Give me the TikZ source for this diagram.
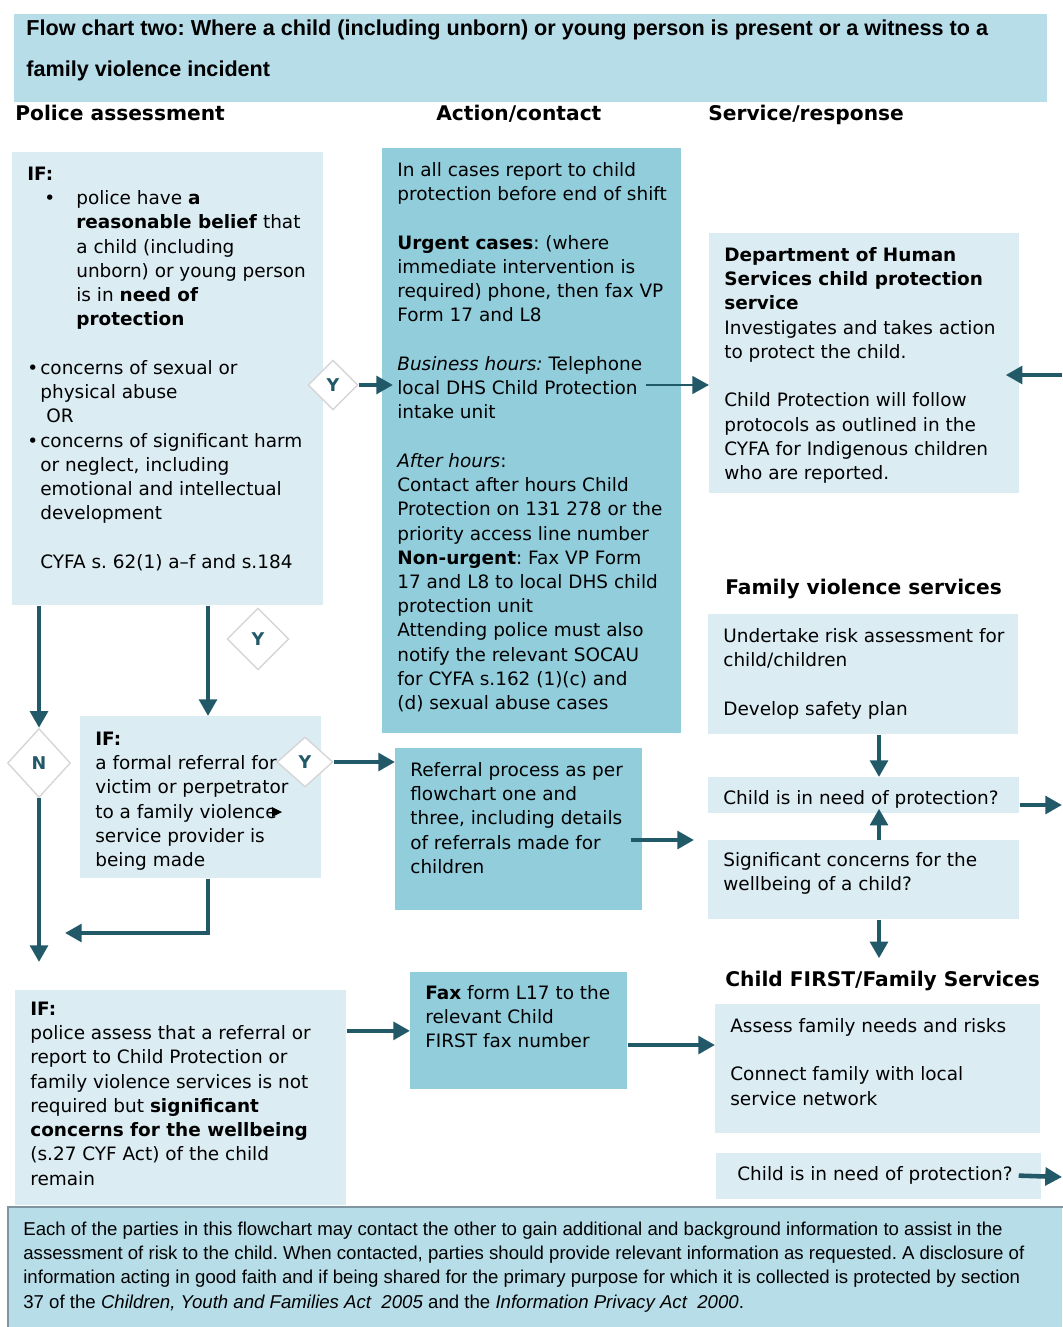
\documentclass[tikz,border=0pt]{standalone}
\usepackage{fontspec}
\setmainfont{DejaVu Sans}
\newfontfamily\titrefont{Liberation Sans}
\usetikzlibrary{arrows.meta, shapes.geometric}
\frenchspacing

\definecolor{bleutitre}{RGB}{183,221,232}
\definecolor{bleupale}{RGB}{219,236,243}
\definecolor{bleumoyen}{RGB}{146,205,220}
\definecolor{bleufonce}{RGB}{33,89,104}
\definecolor{grislosange}{RGB}{214,214,214}
\definecolor{grisbord}{RGB}{127,150,160}

\newdimen\pxl \pxl=0.02cm
\newcommand{\cell}[4][11]{\parbox[t][#3\pxl][t]{\dimexpr#2\pxl-30\pxl\relax}{\vspace*{#1\pxl}\begin{tabular}[t]{@{}l@{}}#4\end{tabular}}}

\begin{document}
\begin{tikzpicture}[x=0.02cm, y=-0.02cm,
  boite/.style={anchor=north west, fill=bleupale, inner xsep=0.3cm, inner ysep=0pt, font=\fontsize{10.5}{13.8}\selectfont},
  boitefoncee/.style={boite, fill=bleumoyen},
  entete/.style={anchor=base west, inner sep=0pt, font=\fontsize{11.5}{14}\selectfont\bfseries},
  losange/.style={diamond, draw=grislosange, fill=white, line width=0.8pt, inner sep=0pt, text=bleufonce, font=\fontsize{10}{12}\selectfont\bfseries},
  fleche/.style={draw=bleufonce, line width=2.6pt, -{Triangle[length=9.5pt,width=10pt]}},
]
\useasboundingbox (0,0) rectangle (1062,1327);
%titre et colonnes
\node[boite, fill=bleutitre, inner xsep=0.24cm, font=\titrefont\fontsize{12.3}{23.2}\selectfont\bfseries] (titre) at (14,14)
  {\cell[-7]{1039}{88}{Flow chart two: Where a child (including unborn) or young person is present or a witness to a\\family violence incident}};
\node[entete] (hPol) at (15,121) {Police assessment};
\node[entete] (hAct) at (436,121) {Action/contact};
\node[entete] (hServ) at (708,121) {Service/response};
%colonne police
\node[boite] (polA) at (12,152) {\cell{311}{453}{\textbf{IF:}\\
  \hspace*{17\pxl}\makebox[32\pxl][l]{•}police have \textbf{a}\\
  \hspace*{49\pxl}\textbf{reasonable belief} that\\
  \hspace*{49\pxl}a child (including\\
  \hspace*{49\pxl}unborn) or young person\\
  \hspace*{49\pxl}is in \textbf{need of}\\
  \hspace*{49\pxl}\textbf{protection}\\ \\
  \makebox[13\pxl][l]{•}concerns of sexual or\\
  \hspace*{13\pxl}physical abuse\\
  \hspace*{19\pxl}OR\\
  \makebox[13\pxl][l]{•}concerns of significant harm\\
  \hspace*{13\pxl}or neglect, including\\
  \hspace*{13\pxl}emotional and intellectual\\
  \hspace*{13\pxl}development\\ \\
  \hspace*{13\pxl}CYFA s. 62(1) a–f and s.184}};
\node[boite] (refI) at (80,716) {\cell[12]{241}{162}{\textbf{IF:}\\
  a formal referral for\\ victim or perpetrator\\ to a family violence\\
  service provider is\\ being made}};
\node[boite] (polK) at (15,990) {\cell[8]{331}{215}{\textbf{IF:}\\
  police assess that a referral or\\ report to Child Protection or\\
  family violence services is not\\ required but \textbf{significant}\\
  \textbf{concerns for the wellbeing}\\ (s.27 CYF Act) of the child\\ remain}};
%colonne action
\node[boitefoncee] (actB) at (382,148) {\cell{299}{585}{In all cases report to child\\
  protection before end of shift\\ \\
  \textbf{Urgent cases}: (where\\ immediate intervention is\\
  required) phone, then fax VP\\ Form 17 and L8\\ \\
  \textit{Business hours:} Telephone\\ local DHS Child Protection\\ intake unit\\ \\
  \textit{After hours}:\\ Contact after hours Child\\ Protection on 131 278 or the\\
  priority access line number\\ \textbf{Non-urgent}: Fax VP Form\\
  17 and L8 to local DHS child\\ protection unit\\ Attending police must also\\
  notify the relevant SOCAU\\ for CYFA s.162 (1)(c) and\\ (d) sexual abuse cases}};
\node[boitefoncee] (procJ) at (395,748) {\cell{247}{162}{Referral process as per\\
  flowchart one and\\ three, including details\\ of referrals made for\\ children}};
\node[boitefoncee] (faxL) at (410,972) {\cell[10]{217}{117}{\textbf{Fax} form L17 to the\\
  relevant Child\\ FIRST fax number}};
%colonne service
\node[boite] (dhsC) at (709,233) {\cell{310}{260}{\textbf{Department of Human}\\
  \textbf{Services child protection}\\ \textbf{service}\\
  Investigates and takes action\\ to protect the child.\\ \\
  Child Protection will follow\\ protocols as outlined in the\\
  CYFA for Indigenous children\\ who are reported.}};
\node[entete] (fvHead) at (725,594) {Family violence services};
\node[boite] (fvD) at (708,614) {\cell{310}{120}{Undertake risk assessment for\\
  child/children\\ \\ Develop safety plan}};
\node[boite] (needE) at (708,777) {\cell[10]{311}{36}{Child is in need of protection?}};
\node[boite] (sigF) at (708,840) {\cell[9]{311}{79}{Significant concerns for the\\
  wellbeing of a child?}};
\node[entete] (cfHead) at (725,986) {Child FIRST/Family Services};
\node[boite] (cfG) at (715,1004) {\cell{325}{129}{Assess family needs and risks\\ \\
  Connect family with local\\ service network}};
\node[boite] (needH) at (716,1153) {\cell[10]{325}{46}{\hspace*{6\pxl}Child is in need of protection?}};
%pied de page
\node[boite, fill=bleutitre, font=\titrefont\fontsize{10.6}{13.8}\selectfont] (pied) at (8,1207)
  {\cell{1054}{120}{Each of the parties in this flowchart may contact the other to gain additional and background information to assist in the\\
  assessment of risk to the child. When contacted, parties should provide relevant information as requested. A disclosure of\\
  information acting in good faith and if being shared for the primary purpose for which it is collected is protected by section\\
  37 of the \textit{Children, Youth and Families Act\ \ 2005} and the \textit{Information Privacy Act\ \ 2000}.}};
\draw[grisbord, line width=1pt] (pied.south west) -- (pied.north west) -- (pied.north east);
%les losanges
\node[losange, minimum width=1cm, minimum height=1cm] (ouiA) at (333,385) {Y};
\node[losange, minimum width=1.24cm, minimum height=1.24cm] (ouiB) at (258,639) {Y};
\node[losange, minimum width=1.26cm, minimum height=1.38cm] (nonC) at (39,763) {N};
\node[losange, minimum width=1.12cm, minimum height=1cm] (ouiD) at (305,762) {Y};
%points de repere
\coordinate (coude) at (208,933);
\coordinate (retour) at (65,933);
\coordinate (basN) at (39,962);
\coordinate (axe) at (879,0);
\coordinate (bordC) at (1062,375);
\coordinate (bordE) at (1062,805);
\coordinate (bordH) at (1062,1177);
\coordinate (niveauJ) at (660,840);
\coordinate (niveauL) at (660,1045);
%les fleches
\draw[fleche, shorten >=-0.22cm] (ouiA.east) -- (actB.west |- ouiA.east);
\draw[fleche, line width=1.6pt, shorten <=-0.72cm] (actB.east |- ouiA.east) -- (dhsC.west |- ouiA.east);
\draw[fleche, shorten >=-0.28cm] (bordC) -- (dhsC.east |- bordC);
\draw[fleche] (nonC.north |- polA.south) -- (nonC.north);
\draw[fleche] (coude |- polA.south) -- (coude |- refI.north);
\draw[fleche] (ouiD.east) -- (procJ.west |- ouiD.east);
\draw[fleche] (nonC.south) -- (basN);
\draw[fleche] (coude |- refI.south) -- (coude) -- (retour);
\fill (272,807) -- (282,812) -- (272,817) -- cycle;
\draw[fleche, shorten <=-0.24cm, shorten >=0.28cm] (procJ.east |- niveauJ) -- (sigF.west |- niveauJ);
\draw[fleche] (axe |- fvD.south) -- (axe |- needE.north);
\draw[fleche, shorten >=-0.1cm] (axe |- sigF.north) -- (axe |- needE.south);
\draw[fleche] (needE.east |- bordE) -- (bordE);
\draw[fleche, shorten >=0.24cm] (axe |- sigF.south) -- (axe |- cfHead.north);
\draw[fleche] (polK.east |- faxL.west) -- (faxL.west);
\draw[fleche] (faxL.east |- niveauL) -- (cfG.west |- niveauL);
\draw[fleche, shorten <=-0.46cm] (needH.east) -- (bordH);
\end{tikzpicture}
\end{document}
